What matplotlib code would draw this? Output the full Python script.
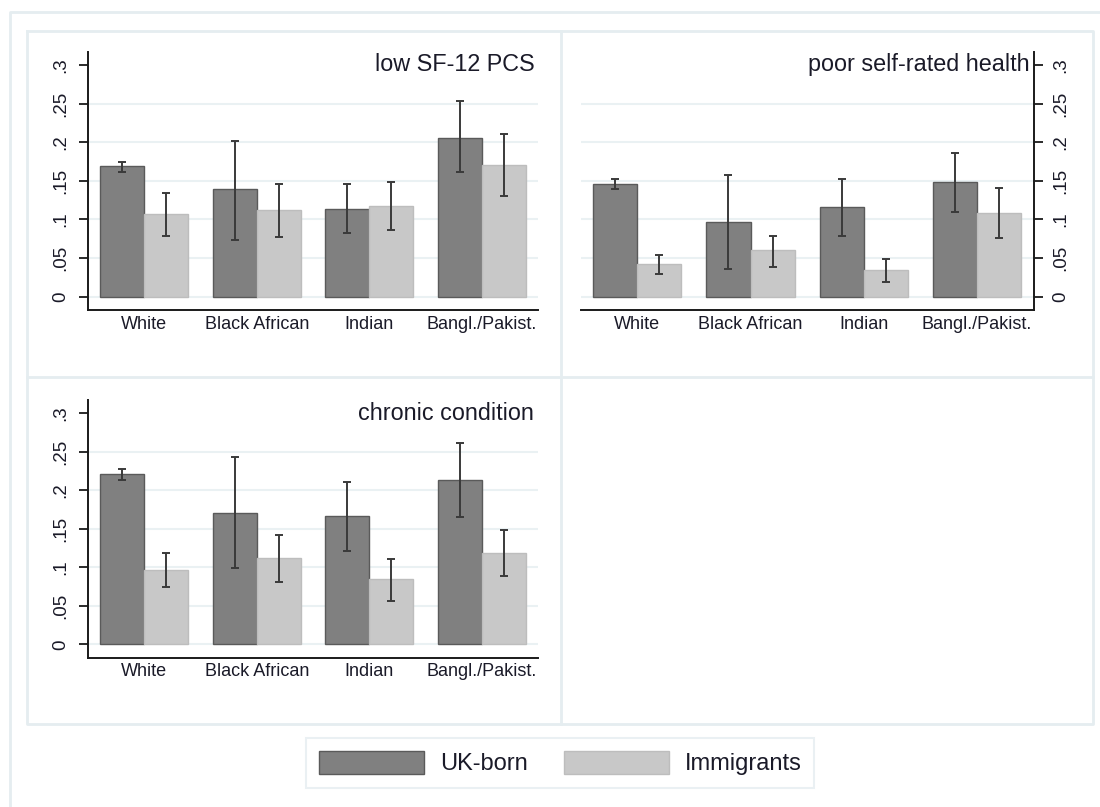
import matplotlib
matplotlib.use("Agg")
import matplotlib.pyplot as plt
import numpy as np
from matplotlib.patches import Patch
from matplotlib.lines import Line2D
import matplotlib.transforms as mtransforms

plt.rcParams['font.family'] = ['Liberation Sans', 'DejaVu Sans']

# ---- data -------------------------------------------------------------
groups = ['White', 'Black African', 'Indian', 'Bangl./Pakist.']
series_names = ['UK-born', 'Immigrants']
panel_titles = ['low SF-12 PCS', 'poor self-rated health', 'chronic condition']

# low SF-12 PCS
pcs_uk = [0.169, 0.139, 0.114, 0.206]
pcs_uk_lo = [0.161, 0.074, 0.082, 0.161]
pcs_uk_hi = [0.174, 0.201, 0.146, 0.253]
pcs_imm = [0.1075, 0.112, 0.117, 0.171]
pcs_imm_lo = [0.079, 0.077, 0.086, 0.131]
pcs_imm_hi = [0.134, 0.146, 0.149, 0.211]

# poor self-rated health
srh_uk = [0.146, 0.0965, 0.116, 0.1485]
srh_uk_lo = [0.140, 0.036, 0.078, 0.110]
srh_uk_hi = [0.153, 0.158, 0.153, 0.186]
srh_imm = [0.042, 0.060, 0.035, 0.109]
srh_imm_lo = [0.029, 0.0385, 0.019, 0.076]
srh_imm_hi = [0.054, 0.079, 0.049, 0.141]

# chronic condition
chr_uk = [0.221, 0.171, 0.167, 0.214]
chr_uk_lo = [0.213, 0.099, 0.121, 0.166]
chr_uk_hi = [0.228, 0.243, 0.211, 0.261]
chr_imm = [0.097, 0.112, 0.085, 0.119]
chr_imm_lo = [0.074, 0.081, 0.057, 0.089]
chr_imm_hi = [0.119, 0.142, 0.111, 0.149]

ytick_vals = [0, 0.05, 0.1, 0.15, 0.2, 0.25, 0.3]
ytick_labels = ['0', '.05', '.1', '.15', '.2', '.25', '.3']

# ---- style ------------------------------------------------------------
W, H = 1100, 807
DARK = '#808080'
DARK_EDGE = '#5a5a5a'
LIGHT = '#c8c8c8'
LIGHT_EDGE = '#bdbdbd'
ERR = '#3a3a3a'
GRID = '#eaf1f3'
FRAME = '#e5edf0'
TEXT = '#1a1a28'
AXIS = '#1a1a1a'

fig = plt.figure(figsize=(W / 100, H / 100), dpi=100)
fig.patch.set_facecolor('white')


def px_rect(x0, y0, x1, y1):
    """Figure-fraction rect from pixel box (top-left origin)."""
    return [x0 / W, 1 - y1 / H, (x1 - x0) / W, (y1 - y0) / H]


def fig_line(xs, ys, **kw):
    fig.add_artist(Line2D([x / W for x in xs], [1 - y / H for y in ys],
                          transform=fig.transFigure, **kw))


# outer frame and cell borders
fig_line([9.5, 9.5, W], [H, 11.7, 11.7], color=FRAME, lw=2.0)
fig_line([26.7, 1093, 1093, 26.7, 26.7], [31, 31, 724, 724, 31], color=FRAME, lw=2.0)
fig_line([561, 561], [31, 724], color=FRAME, lw=2.0)
fig_line([26.7, 1093], [376.7, 376.7], color=FRAME, lw=2.0)

# axes boxes (pixels): x0, top, x1, bottom
boxes = [
    (87.8, 51.7, 538.3, 310.0),
    (580.7, 51.7, 1033.6, 310.0),
    (87.8, 400.0, 538.3, 657.7),
]
panels = [
    (pcs_uk, pcs_uk_lo, pcs_uk_hi, pcs_imm, pcs_imm_lo, pcs_imm_hi),
    (srh_uk, srh_uk_lo, srh_uk_hi, srh_imm, srh_imm_lo, srh_imm_hi),
    (chr_uk, chr_uk_lo, chr_uk_hi, chr_imm, chr_imm_lo, chr_imm_hi),
]

x = np.arange(len(groups))
bw = 0.39
offset = bw / 2

for i, (box, data, title) in enumerate(zip(boxes, panels, panel_titles)):
    uk, uk_lo, uk_hi, imm, imm_lo, imm_hi = [np.array(d) for d in data]
    ax = fig.add_axes(px_rect(*box))
    ax.set_facecolor('white')
    ax.set_xlim(-0.5, 3.5)
    ax.set_ylim(-0.0172, 0.3172)

    for yv in ytick_vals[:-1]:
        ax.axhline(yv, color=GRID, lw=1.5, zorder=0)

    ax.bar(x - offset, uk, width=bw, color=DARK, edgecolor=DARK_EDGE,
           linewidth=1.0, zorder=2)
    ax.bar(x + offset, imm, width=bw, color=LIGHT, edgecolor=LIGHT_EDGE,
           linewidth=1.0, zorder=2)
    ax.errorbar(x - offset, uk, yerr=[uk - uk_lo, uk_hi - uk], fmt='none',
                ecolor=ERR, elinewidth=1.4, capsize=3, capthick=1.4, zorder=3)
    ax.errorbar(x + offset, imm, yerr=[imm - imm_lo, imm_hi - imm], fmt='none',
                ecolor=ERR, elinewidth=1.4, capsize=3, capthick=1.4, zorder=3)

    right_axis = (i == 1)
    for s in ['top', 'left', 'right']:
        ax.spines[s].set_visible(False)
    side = 'right' if right_axis else 'left'
    ax.spines[side].set_visible(True)
    for s in ['bottom', side]:
        ax.spines[s].set_color(AXIS)
        ax.spines[s].set_linewidth(1.4)

    ax.set_xticks(x)
    ax.set_xticklabels(groups, fontsize=13, color=TEXT)
    ax.tick_params(axis='x', length=0, pad=4)

    ax.set_yticks(ytick_vals)
    ax.set_yticklabels(ytick_labels, fontsize=13.5, color=TEXT,
                       rotation=90, va='center')
    if right_axis:
        ax.yaxis.tick_right()
    ax.tick_params(axis='y', length=6.2, width=1.3, color=AXIS, pad=7.5)

    trans = mtransforms.blended_transform_factory(ax.transAxes, ax.transData)
    ax.text(1 - 4 / 450, 0.3, title, transform=trans, ha='right', va='center',
            fontsize=16.8, color=TEXT)

# legend
handles = [
    Patch(facecolor=DARK, edgecolor=DARK_EDGE, linewidth=1.0, label=series_names[0]),
    Patch(facecolor=LIGHT, edgecolor=LIGHT_EDGE, linewidth=1.0, label=series_names[1]),
]
leg = fig.legend(handles=handles, loc='center', ncol=2,
                 bbox_to_anchor=(560.4 / W, 1 - 762.8 / H),
                 fontsize=17, frameon=True, fancybox=False,
                 handlelength=4.45, handleheight=1.12, handletextpad=0.65,
                 columnspacing=1.55, borderpad=0.55, borderaxespad=0)
leg.get_frame().set_edgecolor(FRAME)
leg.get_frame().set_linewidth(1.5)
for t in leg.get_texts():
    t.set_color(TEXT)

fig.savefig('out.png', dpi=100, facecolor='white')
